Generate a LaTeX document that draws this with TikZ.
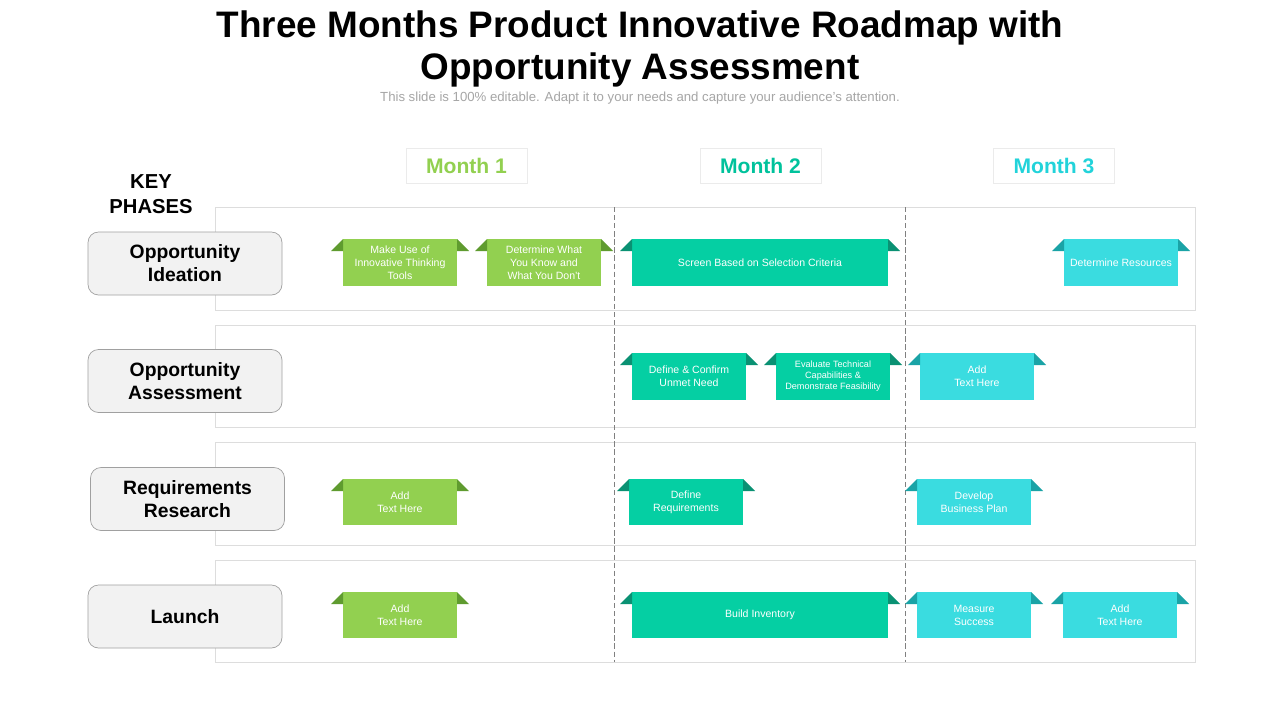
\documentclass[tikz,border=0pt]{standalone}
\usepackage{fontspec}
\setmainfont{Liberation Sans}
\definecolor{greenmain}{HTML}{92D050}
\definecolor{greenflap}{HTML}{5F9B2F}
\definecolor{tealmain}{HTML}{05CFA3}
\definecolor{tealflap}{HTML}{0A9173}
\definecolor{cyanmain}{HTML}{3ADCE0}
\definecolor{cyanflap}{HTML}{1AA3A6}
\definecolor{monthone}{HTML}{92D050}
\definecolor{monthtwo}{HTML}{00C29C}
\definecolor{monththree}{HTML}{22D3DA}
\definecolor{subgray}{HTML}{A6A6A6}
\definecolor{framegray}{HTML}{DDDDDD}
\definecolor{phasefill}{HTML}{F2F2F2}
\definecolor{phasedraw}{HTML}{A0A0A0}
\newcommand\taskbox[8][]{%
  \node[task, #1, fill=#3main, minimum width={(#6-#4)*0.02cm}, minimum height={(#7-#5)*0.02cm}] (#2) at ({(#4+#6)/2},{(#5+#7)/2}) {#8};
  \fill[#3flap] (#2.north west) -- ++(-12,12) -- ++(12,0) -- cycle;
  \fill[#3flap] (#2.north east) -- ++(12,12) -- ++(-12,0) -- cycle;}
\begin{document}
\begin{tikzpicture}[x=0.02cm,y=-0.02cm,
  task/.style={inner sep=0pt, outer sep=0pt, align=center, text=white, font=\fontsize{6}{7.4}\selectfont},
  phase/.style={draw=phasedraw, fill=phasefill, rounded corners=6pt, inner sep=0pt, align=center, minimum width={194*0.02cm}, minimum height={63*0.02cm}, font=\fontsize{11}{13}\selectfont\bfseries},
  monthbox/.style={draw=black!8, fill=white, inner sep=0pt, minimum width={121*0.02cm}, minimum height={35*0.02cm}, font=\fontsize{12}{14}\selectfont\bfseries},
  rowframe/.style={draw=framegray, line width=0.45pt},
  divider/.style={draw=gray, line width=0.5pt, dash pattern=on 3pt off 1.6pt}]
\useasboundingbox[fill=white] (0,0) rectangle (1280,720);

% title
\node[align=center, font=\fontsize{21}{23.5}\selectfont\bfseries] (title) at (640,49) {Three Months Product Innovative Roadmap with\\Opportunity Assessment};
\node[text=subgray, font=\fontsize{7.5}{8.5}\selectfont] (subtitle) at (640,98) {This slide is 100\% editable. Adapt it to your needs and capture your audience's attention.};

% months
\node[monthbox, text=monthone] (m1) at (466.5,165.5) {Month 1};
\node[monthbox, text=monthtwo] (m2) at (760.5,165.5) {Month 2};
\node[monthbox, text=monththree] (m3) at (1054,165.5) {Month 3};

\node[align=center, font=\fontsize{11.5}{14.2}\selectfont\bfseries] (key) at (151,194) {KEY\\PHASES};

% row frames
\draw[rowframe] (215,207) rectangle (1195,310);
\draw[rowframe] (215,325) rectangle (1195,427);
\draw[rowframe] (215,442) rectangle (1195,545);
\draw[rowframe] (215,560) rectangle (1195,662);

% dividers
\draw[divider] (614,207) -- (614,662);
\draw[divider] (905,207) -- (905,662);

% phases
\node[phase] (p1) at (185,263.5) {Opportunity\\Ideation};
\node[phase] (p2) at (185,381) {Opportunity\\Assessment};
\node[phase] (p3) at (187.5,499) {Requirements\\Research};
\node[phase] (p4) at (185,616.5) {Launch};

% row 1
\taskbox{t11}{green}{343}{239}{457}{286}{Make Use of\\Innovative Thinking\\Tools}
\taskbox{t12}{green}{487}{239}{601}{286}{Determine What\\You Know and\\What You Don't}
\taskbox{t13}{teal}{632}{239}{888}{286}{Screen Based on Selection Criteria}
\taskbox{t14}{cyan}{1064}{239}{1178}{286}{Determine Resources}
% row 2
\taskbox{t21}{teal}{632}{353}{746}{400}{Define \& Confirm\\Unmet Need}
\taskbox[font=\fontsize{5.2}{6.2}\selectfont]{t22}{teal}{776}{353}{890}{400}{Evaluate Technical\\Capabilities \&\\Demonstrate Feasibility}
\taskbox{t23}{cyan}{920}{353}{1034}{400}{Add\\Text Here}
% row 3
\taskbox{t31}{green}{343}{479}{457}{525}{Add\\Text Here}
\taskbox{t32}{teal}{629}{479}{743}{525}{Define\\Requirements}
\taskbox{t33}{cyan}{917}{479}{1031}{525}{Develop\\Business Plan}
% row 4
\taskbox{t41}{green}{343}{592}{457}{638}{Add\\Text Here}
\taskbox{t42}{teal}{632}{592}{888}{638}{Build Inventory}
\taskbox{t43}{cyan}{917}{592}{1031}{638}{Measure\\Success}
\taskbox{t44}{cyan}{1063}{592}{1177}{638}{Add\\Text Here}
\end{tikzpicture}
\end{document}
